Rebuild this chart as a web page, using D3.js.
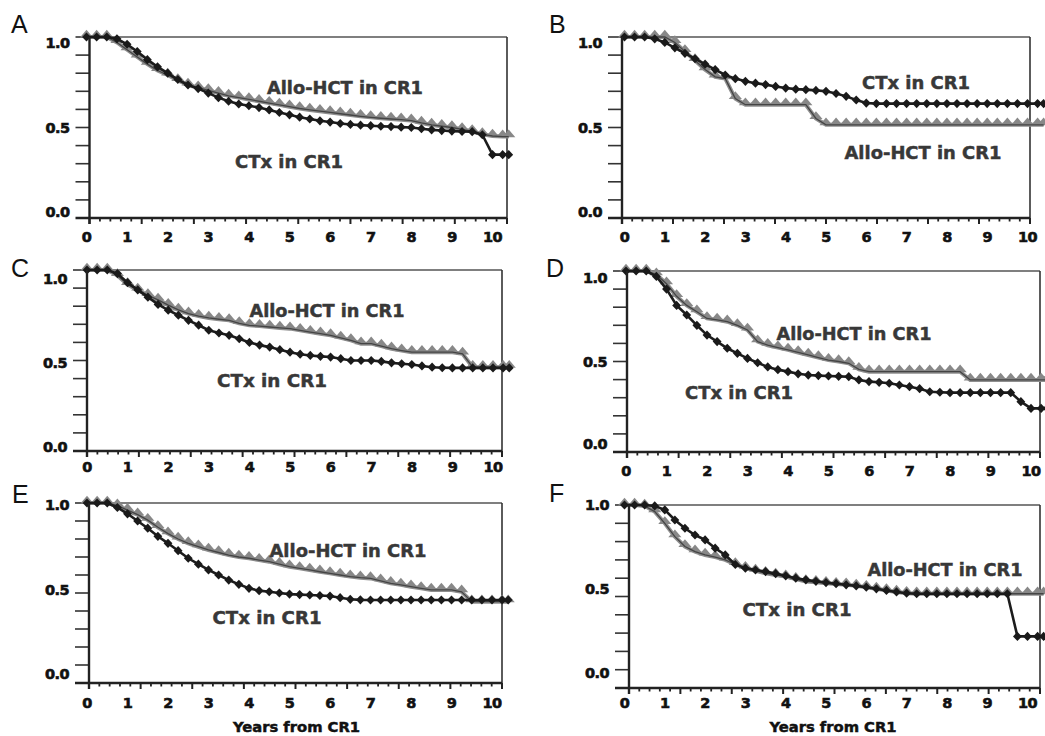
<!DOCTYPE html>
<html>
<head>
  <meta charset="utf-8">
  <style>
    body { margin: 0; background: #fff; }
    svg { display: block; }
    .num { font-family: "DejaVu Sans", Verdana, sans-serif; font-weight: bold; font-size: 14.5px; fill: #111; stroke: #111; stroke-width: 0.6px; letter-spacing: -0.6px; }
    .note { font-family: "DejaVu Sans", Verdana, sans-serif; font-weight: bold; font-size: 18px; fill: #383838; stroke: #383838; stroke-width: 0.5px; }
    .letter { font-family: "Liberation Sans", Arial, sans-serif; font-size: 25px; fill: #111; }
    .xtitle { font-family: "DejaVu Sans", Verdana, sans-serif; font-weight: bold; font-size: 14.5px; fill: #111; stroke: #111; stroke-width: 0.5px; }
  </style>
</head>
<body>
  <svg width="1045" height="736"></svg>
  <script src="https://cdn.jsdelivr.net/npm/d3@7/dist/d3.min.js"></script>
  <script>

  var years = [0, 0.25, 0.5, 0.75, 1, 1.25, 1.5, 1.75, 2, 2.25, 2.5, 2.75, 3, 3.25, 3.5, 3.75,
               4, 4.25, 4.5, 4.75, 5, 5.25, 5.5, 5.75, 6, 6.25, 6.5, 6.75, 7, 7.25, 7.5, 7.75,
               8, 8.25, 8.5, 8.75, 9, 9.25, 9.5, 9.75, 10, 10.25, 10.4];

  var xTickLabels = ["0", "1", "2", "3", "4", "5", "6", "7", "8", "9", "10"];
  var yTickValues = [1.0, 0.5, 0.0];
  var yTickLabels = ["1.0", "0.5", "0.0"];
  var seriesNames = ["Allo-HCT in CR1", "CTx in CR1"];

  var alloA = [1,1,1,0.97,0.93,0.89,0.85,0.815,0.79,0.76,0.735,0.72,0.705,0.69,0.675,0.665,0.655,0.645,0.635,0.625,0.615,0.605,0.597,0.59,0.583,0.576,0.569,0.562,0.556,0.551,0.547,0.543,0.538,0.525,0.514,0.507,0.5,0.49,0.478,0.462,0.453,0.45,0.45];
  var ctxA  = [1,1,1,0.99,0.96,0.92,0.875,0.835,0.80,0.765,0.735,0.715,0.69,0.665,0.645,0.63,0.62,0.61,0.597,0.583,0.57,0.557,0.547,0.537,0.53,0.522,0.517,0.513,0.51,0.507,0.505,0.502,0.5,0.493,0.487,0.483,0.48,0.478,0.477,0.46,0.35,0.35,0.35];

  var alloB = [1,1,1,1,1,0.97,0.92,0.87,0.82,0.78,0.77,0.66,0.626,0.626,0.626,0.626,0.626,0.626,0.626,0.55,0.515,0.515,0.515,0.515,0.515,0.515,0.515,0.515,0.515,0.515,0.515,0.515,0.515,0.515,0.515,0.515,0.515,0.515,0.515,0.515,0.515,0.515,0.515];
  var ctxB  = [1,1,1,0.99,0.97,0.94,0.91,0.88,0.85,0.82,0.79,0.77,0.755,0.745,0.737,0.727,0.718,0.712,0.709,0.705,0.70,0.688,0.672,0.652,0.635,0.632,0.632,0.632,0.632,0.632,0.632,0.632,0.632,0.632,0.632,0.632,0.632,0.632,0.632,0.632,0.632,0.632,0.632];

  var alloC = [1,1,1,0.97,0.92,0.89,0.86,0.835,0.806,0.78,0.759,0.745,0.735,0.728,0.722,0.705,0.694,0.69,0.685,0.68,0.676,0.667,0.657,0.648,0.639,0.625,0.611,0.593,0.593,0.58,0.565,0.555,0.546,0.546,0.546,0.546,0.546,0.537,0.463,0.463,0.463,0.463,0.463];
  var ctxC  = [1,1,1,0.98,0.93,0.89,0.85,0.81,0.778,0.75,0.722,0.695,0.667,0.652,0.639,0.62,0.60,0.585,0.574,0.56,0.546,0.535,0.528,0.523,0.519,0.51,0.50,0.50,0.50,0.495,0.487,0.482,0.478,0.47,0.463,0.46,0.459,0.459,0.459,0.459,0.459,0.459,0.459];

  var alloD = [1,1,1,0.98,0.93,0.86,0.81,0.775,0.738,0.73,0.72,0.70,0.674,0.61,0.59,0.577,0.564,0.55,0.536,0.522,0.508,0.50,0.49,0.457,0.444,0.444,0.444,0.444,0.444,0.444,0.444,0.444,0.444,0.444,0.398,0.398,0.398,0.398,0.398,0.398,0.398,0.398,0.398];
  var ctxD  = [1,1,1,0.97,0.90,0.81,0.757,0.70,0.646,0.61,0.573,0.545,0.517,0.493,0.47,0.455,0.444,0.432,0.425,0.422,0.42,0.418,0.416,0.398,0.389,0.385,0.38,0.37,0.361,0.35,0.333,0.33,0.328,0.328,0.328,0.328,0.328,0.328,0.328,0.278,0.241,0.241,0.241];

  var alloE = [1,1,1,0.985,0.96,0.935,0.905,0.865,0.83,0.80,0.776,0.757,0.739,0.725,0.711,0.70,0.693,0.683,0.674,0.66,0.646,0.637,0.628,0.618,0.609,0.60,0.591,0.585,0.581,0.568,0.554,0.545,0.535,0.526,0.517,0.517,0.517,0.507,0.452,0.452,0.452,0.452,0.452];
  var ctxE  = [1,1,1,0.975,0.94,0.90,0.86,0.815,0.776,0.735,0.693,0.66,0.628,0.60,0.572,0.548,0.526,0.513,0.507,0.50,0.494,0.491,0.489,0.486,0.483,0.474,0.465,0.462,0.461,0.461,0.461,0.461,0.461,0.461,0.461,0.461,0.461,0.461,0.461,0.461,0.461,0.461,0.461];

  var alloF = [1,1,0.995,0.964,0.90,0.827,0.773,0.745,0.727,0.715,0.70,0.675,0.655,0.64,0.627,0.618,0.609,0.595,0.582,0.578,0.573,0.568,0.564,0.558,0.551,0.542,0.533,0.525,0.518,0.515,0.515,0.515,0.515,0.515,0.515,0.515,0.515,0.515,0.515,0.515,0.515,0.515,0.515];
  var ctxF  = [1,1,1,0.995,0.973,0.918,0.873,0.836,0.809,0.764,0.727,0.675,0.655,0.645,0.636,0.625,0.613,0.60,0.591,0.583,0.576,0.57,0.564,0.558,0.551,0.542,0.533,0.525,0.518,0.515,0.515,0.515,0.515,0.515,0.515,0.515,0.515,0.515,0.515,0.282,0.282,0.282,0.282];

  var panelIds = ["A", "B", "C", "D", "E", "F"];
  var alloSeries = [alloA, alloB, alloC, alloD, alloE, alloF];
  var ctxSeries = [ctxA, ctxB, ctxC, ctxD, ctxE, ctxF];

  // page layout of the six panels (pixels)
  var layout = [
    {left: 89.5, top: 37, right: 507, bottom: 218, x0: 86.5, ppy: 40.6, labY: 237, letter: [11, 33], nudge: [6, 0, -6],
     allo: [345, 87, 156], ctx: [289, 161, 108], title: false},
    {left: 622, top: 37, right: 1030, bottom: 218, x0: 624.5, ppy: 40.3, labY: 237, letter: [549, 33], nudge: [6, 0, -6],
     allo: [923, 152, 157], ctx: [916, 82, 108], title: false},
    {left: 87, top: 270, right: 502, bottom: 451, x0: 87, ppy: 40.6, labY: 467, letter: [11, 277], nudge: [9, 2, -4],
     allo: [327, 310, 155], ctx: [272, 380, 110], title: false},
    {left: 627, top: 271, right: 1040, bottom: 452, x0: 626, ppy: 40.5, labY: 471, letter: [546, 277], nudge: [7, 0, -8],
     allo: [854, 333, 155], ctx: [739, 392, 108], title: false},
    {left: 89, top: 503, right: 502, bottom: 683, x0: 87, ppy: 40.5, labY: 703, letter: [12, 503], nudge: [2, -3, -9],
     allo: [348, 550, 157], ctx: [267, 617, 109], title: true},
    {left: 629, top: 505, right: 1040, bottom: 688, x0: 624.5, ppy: 40.3, labY: 703, letter: [549, 502], nudge: [0, -8, -15],
     allo: [945, 569, 155], ctx: [797, 609, 109], title: true}
  ];

  var svg = d3.select("svg");

  var tri = d3.symbol().type(d3.symbolTriangle).size(48);
  var dia = d3.symbol().type(d3.symbolDiamond).size(30);

  panelIds.forEach(function(id, p) {
    var L = layout[p];
    var g = svg.append("g").attr("class", "panel panel-" + id);

    var x = d3.scaleLinear().domain([0, 10]).range([L.x0, L.x0 + 10 * L.ppy]);
    var y = d3.scaleLinear().domain([0, 1]).range([L.bottom, L.top]);
    // tick marks of the frame (8 major x 5 minor along x, 10 along y)
    var xt = d3.scaleLinear().domain([0, 40]).range([L.left, L.right]);
    var yt = d3.scaleLinear().domain([0, 10]).range([L.bottom, L.top]);

    // frame: thin top/right, heavy left/bottom
    g.append("line").attr("x1", L.left).attr("x2", L.right).attr("y1", L.top).attr("y2", L.top)
      .attr("stroke", "#555").attr("stroke-width", 1.3);
    g.append("line").attr("x1", L.right).attr("x2", L.right).attr("y1", L.top).attr("y2", L.bottom)
      .attr("stroke", "#333").attr("stroke-width", 1.6);

    g.selectAll(".yt").data(d3.range(1, 11)).enter().append("line")
      .attr("x1", L.left - 14).attr("x2", L.left)
      .attr("y1", function(d) { return yt(d); }).attr("y2", function(d) { return yt(d); })
      .attr("stroke", "#333").attr("stroke-width", 1.6);

    g.selectAll(".xt").data(d3.range(0, 41)).enter().append("line")
      .attr("x1", function(d) { return xt(d); }).attr("x2", function(d) { return xt(d); })
      .attr("y1", L.bottom).attr("y2", function(d) { return L.bottom + (d % 5 === 0 ? 6 : 3.5); })
      .attr("stroke", "#222").attr("stroke-width", function(d) { return d % 5 === 0 ? 2 : 1.8; });

    // curves
    var line = d3.line()
      .x(function(d, i) { return x(years[i]); })
      .y(function(d) { return y(d); });

    var allo = alloSeries[p], ctx = ctxSeries[p];

    g.append("path").attr("d", line(allo)).attr("fill", "none")
      .attr("stroke", "#8f8f8f").attr("stroke-width", 4);
    g.selectAll(".tri").data(allo).enter().append("path")
      .attr("d", tri)
      .attr("transform", function(d, i) { return "translate(" + x(years[i]) + "," + (y(d) - 2) + ") scale(1.25,0.85)"; })
      .attr("fill", "#888");
    g.append("path").attr("d", line(allo)).attr("fill", "none")
      .attr("stroke", "#444").attr("stroke-width", 1.3);

    g.append("path").attr("d", line(ctx)).attr("fill", "none")
      .attr("stroke", "#1c1c1c").attr("stroke-width", 2.6);
    g.selectAll(".dia").data(ctx).enter().append("path")
      .attr("d", dia)
      .attr("transform", function(d, i) { return "translate(" + x(years[i]) + "," + y(d) + ") scale(1.5,0.9)"; })
      .attr("fill", "#1a1a1a");

    // heavy axes on top of the curves
    g.append("line").attr("x1", L.left).attr("x2", L.left).attr("y1", L.top).attr("y2", L.bottom + 6)
      .attr("stroke", "#222").attr("stroke-width", 2.4);
    g.append("line").attr("x1", L.left - 14).attr("x2", L.right).attr("y1", L.bottom).attr("y2", L.bottom)
      .attr("stroke", "#222").attr("stroke-width", 2.4);

    // tick labels
    g.selectAll(".ylab").data(yTickValues).enter().append("text")
      .attr("class", "num")
      .attr("x", L.left - 20)
      .attr("y", function(d, i) { return y(d) + L.nudge[i]; })
      .attr("dy", "0.36em")
      .attr("text-anchor", "end")
      .text(function(d, i) { return yTickLabels[i]; });

    g.selectAll(".xlab").data(xTickLabels).enter().append("text")
      .attr("class", "num")
      .attr("x", function(d, i) { return x(i); })
      .attr("y", L.labY)
      .attr("dy", "0.36em")
      .attr("text-anchor", "middle")
      .text(function(d) { return d; });

    // series labels
    [[L.allo, seriesNames[0]], [L.ctx, seriesNames[1]]].forEach(function(n) {
      g.append("text").attr("class", "note")
        .attr("x", n[0][0] - n[0][2] / 2).attr("y", n[0][1] + 6.5)
        .attr("textLength", n[0][2]).attr("lengthAdjust", "spacingAndGlyphs")
        .text(n[1]);
    });

    g.append("text").attr("class", "letter")
      .attr("x", L.letter[0]).attr("y", L.letter[1]).text(id);

    if (L.title) {
      g.append("text").attr("class", "xtitle")
        .attr("x", x(5) + 7).attr("y", 732)
        .attr("text-anchor", "middle")
        .attr("textLength", 127).attr("lengthAdjust", "spacingAndGlyphs")
        .text("Years from CR1");
    }
  });

  </script>
</body>
</html>
